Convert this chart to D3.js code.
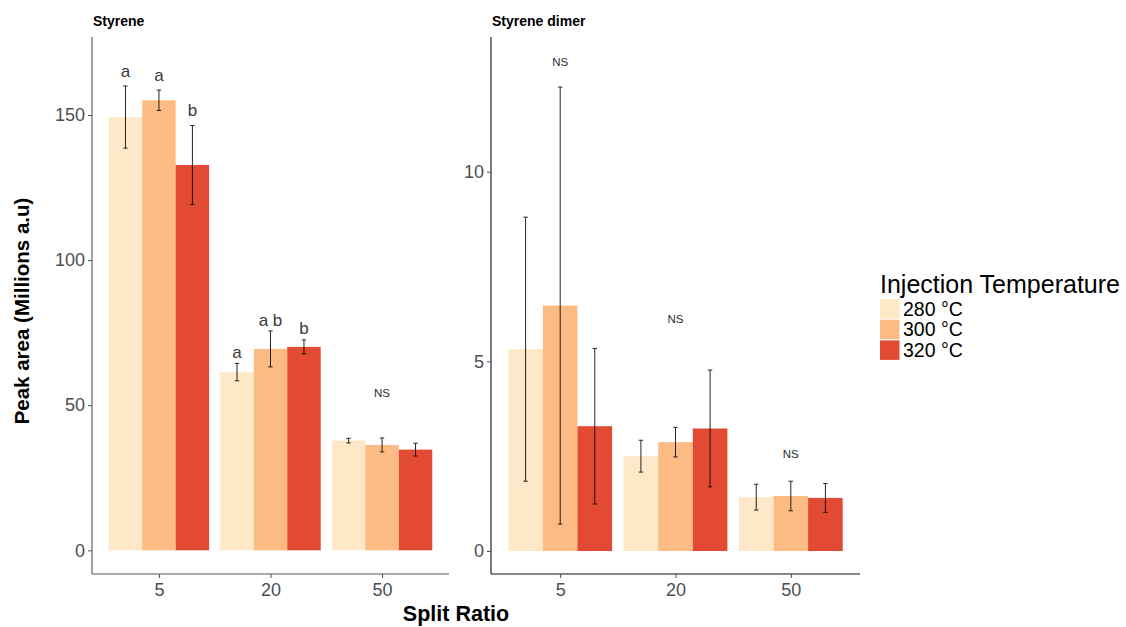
<!DOCTYPE html>
<html><head><meta charset="utf-8">
<script src="https://cdn.jsdelivr.net/npm/d3@7"></script>
<style>body{margin:0;background:#fff}svg{display:block;font-family:"Liberation Sans",Arial,sans-serif}</style>
</head><body><svg id="c" width="1126" height="627"></svg>
<script>
const categories = ["5", "20", "50"];
const temps = ["280 °C", "300 °C", "320 °C"];
const colors = ["#fee8c8", "#fdbb84", "#e34a33"];

// Styrene (Millions a.u): one array per temperature, values per split ratio
const styrene280 = [149.3, 61.4, 37.8];
const styrene300 = [155.1, 69.4, 36.3];
const styrene320 = [132.8, 70.1, 34.7];
const styreneSd280 = [10.7, 3.0, 0.8];
const styreneSd300 = [3.5, 6.2, 2.4];
const styreneSd320 = [13.6, 2.4, 2.2];
const styreneLetters = [["a", "a", "b"], ["a", "a b", "b"], [null, null, null]];
const styreneLetterY = [[163.1, 161.7, 149.6], [66.2, 77.2, 74.7], [null, null, null]];
const styreneNS = [{cat: "50", y: 52.9}];

// Styrene dimer
const dimer280 = [5.32, 2.50, 1.42];
const dimer300 = [6.47, 2.87, 1.45];
const dimer320 = [3.29, 3.23, 1.40];
const dimerSd280 = [3.48, 0.42, 0.34];
const dimerSd300 = [5.76, 0.39, 0.39];
const dimerSd320 = [2.05, 1.54, 0.38];
const dimerNS = [{cat: "5", y: 12.78}, {cat: "20", y: 6.01}, {cat: "50", y: 2.45}];

const styreneTicks = [0, 50, 100, 150];
const dimerTicks = [0, 5, 10];

const svg = d3.select("#c");

function panel(opt) {
  const g = svg.append("g");
  // ggplot-style discrete axis: expand 0.6 each side, dodge width 0.9
  const unit = (opt.x1 - opt.x0) / 3.2;
  const xc = d3.scalePoint().domain(categories).range([opt.x0 + 0.6 * unit, opt.x1 - 0.6 * unit]);
  const sub = d3.scaleBand().domain(temps).range([-0.45 * unit, 0.45 * unit]);
  const y = d3.scaleLinear().domain(opt.yDomain).range([opt.yb, opt.yt]);

  const series = opt.means.map((m, ti) => categories.map((c, ci) => ({
    cat: c, temp: temps[ti], ti, v: m[ci], sd: opt.sds[ti][ci]
  }))).flat();

  g.selectAll("rect.bar").data(series).join("rect")
    .attr("x", d => xc(d.cat) + sub(d.temp))
    .attr("width", sub.bandwidth())
    .attr("y", d => y(d.v))
    .attr("height", d => y(0) - y(d.v))
    .attr("fill", d => colors[d.ti]);

  const cap = 2.2;
  const cx = d => xc(d.cat) + sub(d.temp) + sub.bandwidth() / 2;
  const eb = g.selectAll("g.eb").data(series).join("g").attr("stroke", "#000").attr("stroke-width", 1).attr("opacity", 0.85);
  eb.append("line")
    .attr("x1", cx).attr("x2", cx)
    .attr("y1", d => y(d.v + d.sd)).attr("y2", d => y(d.v - d.sd));
  [1, -1].forEach(s => {
    eb.append("line")
      .attr("x1", d => cx(d) - cap).attr("x2", d => cx(d) + cap)
      .attr("y1", d => y(d.v + s * d.sd)).attr("y2", d => y(d.v + s * d.sd));
  });

  if (opt.letters) {
    const L = [];
    opt.letters.forEach((row, ci) => row.forEach((t, ti) => { if (t) L.push({cat: categories[ci], temp: temps[ti], t, yv: opt.letterY[ci][ti]}); }));
    g.selectAll("text.let").data(L).join("text")
      .attr("x", d => xc(d.cat) + sub(d.temp) + sub.bandwidth() / 2)
      .attr("y", d => y(d.yv))
      .attr("text-anchor", "middle").attr("font-size", 17).attr("fill", "#3a3a3a")
      .text(d => d.t);
  }
  g.selectAll("text.ns").data(opt.ns).join("text")
    .attr("x", d => xc(d.cat)).attr("y", d => y(d.y))
    .attr("text-anchor", "middle").attr("font-size", 11.5).attr("fill", "#2b2b33")
    .text("NS");

  const yAxis = g.append("g").attr("transform", `translate(${opt.x0},0)`)
    .call(d3.axisLeft(y).tickValues(opt.ticks).tickSize(4).tickPadding(3));
  yAxis.select(".domain").attr("d", `M0,${opt.yt}V${opt.yb}`);
  const xAxis = g.append("g").attr("transform", `translate(0,${opt.yb})`)
    .call(d3.axisBottom(xc).tickSize(4).tickPadding(5));
  xAxis.select(".domain").attr("d", `M${opt.x0},0H${opt.x1}`);
  [yAxis, xAxis].forEach(a => {
    a.select(".domain").attr("stroke", opt.axisColor).attr("stroke-width", 1.1);
    a.selectAll(".tick line").attr("stroke", "#4d4d4d");
    a.selectAll(".tick text").attr("font-size", 18).attr("fill", "#4d4d55").attr("font-family", "Liberation Sans, Arial, sans-serif");
  });

  svg.append("text").attr("x", opt.x0 + 1).attr("y", 26)
    .attr("font-size", 14).attr("font-weight", "bold").attr("fill", "#000")
    .text(opt.title);
}

panel({
  x0: 92, x1: 449, yt: 37, yb: 574, yDomain: [-8.17, 176.9],
  means: [styrene280, styrene300, styrene320],
  sds: [styreneSd280, styreneSd300, styreneSd320],
  letters: styreneLetters, letterY: styreneLetterY, ns: styreneNS,
  ticks: styreneTicks, title: "Styrene", axisColor: "#555"
});
panel({
  x0: 491, x1: 860, yt: 37, yb: 574, yDomain: [-0.606, 13.55],
  means: [dimer280, dimer300, dimer320],
  sds: [dimerSd280, dimerSd300, dimerSd320],
  letters: null, ns: dimerNS,
  ticks: dimerTicks, title: "Styrene dimer", axisColor: "#111"
});

svg.append("text").attr("transform", "translate(29,311) rotate(-90)")
  .attr("text-anchor", "middle").attr("font-size", 20.5).attr("font-weight", "bold")
  .text("Peak area (Millions a.u)");
svg.append("text").attr("x", 456).attr("y", 621)
  .attr("text-anchor", "middle").attr("font-size", 21.5).attr("font-weight", "bold")
  .text("Split Ratio");

const lg = svg.append("g").attr("transform", "translate(880,0)");
lg.append("text").attr("x", 0).attr("y", 293).attr("font-size", 25).text("Injection Temperature");
const items = lg.selectAll("g.it").data(temps).join("g")
  .attr("transform", (d, i) => `translate(0,${299 + i * 20.7})`);
items.append("rect").attr("width", 19.5).attr("height", 19.5).attr("fill", (d, i) => colors[i]);
items.append("text").attr("x", 23).attr("y", 16.5).attr("font-size", 19.5).text(d => d);
</script></body></html>
